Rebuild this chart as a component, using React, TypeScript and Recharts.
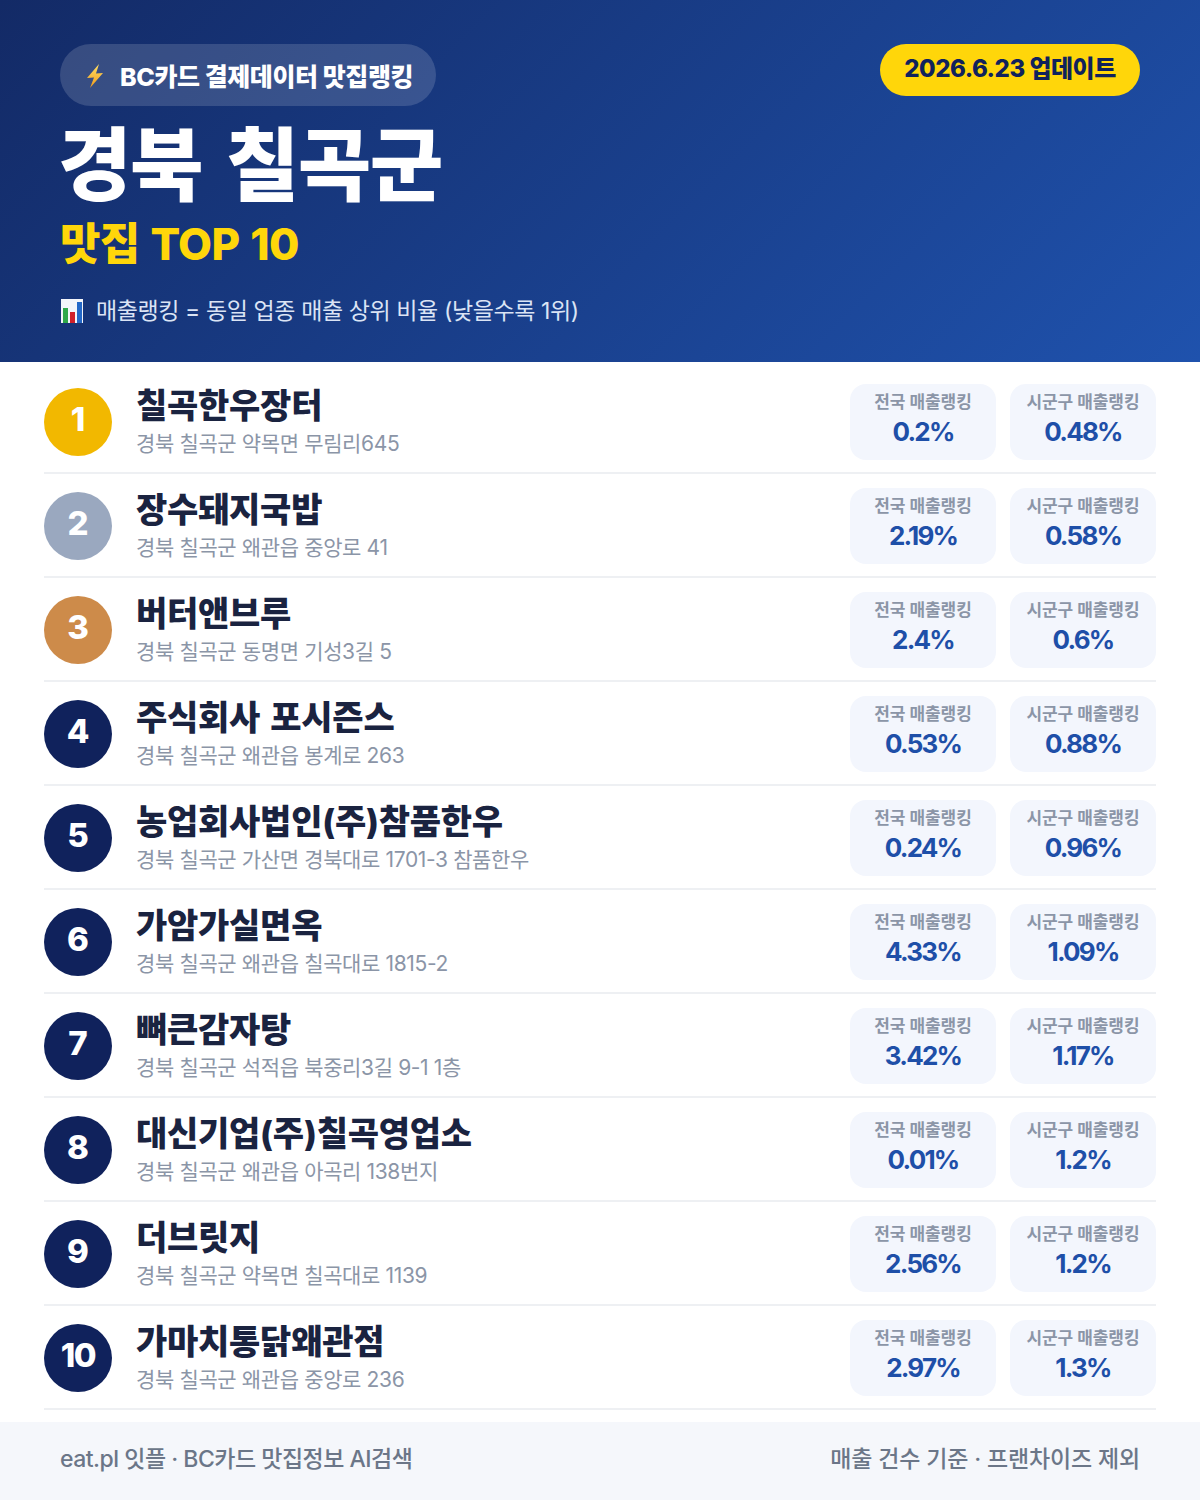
import React from "react";
import { BarChart, Bar, XAxis, YAxis } from "recharts";

const ranks = [1, 2, 3, 4, 5, 6, 7, 8, 9, 10];
const names = ["칠곡한우장터", "장수돼지국밥", "버터앤브루", "주식회사 포시즌스", "농업회사법인(주)참품한우", "가암가실면옥", "뼈큰감자탕", "대신기업(주)칠곡영업소", "더브릿지", "가마치통닭왜관점"];
const addresses = ["경북 칠곡군 약목면 무림리645", "경북 칠곡군 왜관읍 중앙로 41", "경북 칠곡군 동명면 기성3길 5", "경북 칠곡군 왜관읍 봉계로 263", "경북 칠곡군 가산면 경북대로 1701-3 참품한우", "경북 칠곡군 왜관읍 칠곡대로 1815-2", "경북 칠곡군 석적읍 북중리3길 9-1 1층", "경북 칠곡군 왜관읍 아곡리 138번지", "경북 칠곡군 약목면 칠곡대로 1139", "경북 칠곡군 왜관읍 중앙로 236"];
const nationalRank = [0.2, 2.19, 2.4, 0.53, 0.24, 4.33, 3.42, 0.01, 2.56, 2.97];
const districtRank = [0.48, 0.58, 0.6, 0.88, 0.96, 1.09, 1.17, 1.2, 1.2, 1.3];
const medalColors = ["#f2b800", "#9aa8bf", "#cd8b4a"];
const defaultColor = "#10225c";

const rows = ranks.map((rank, i) => ({ rank, name: names[i], address: addresses[i], national: nationalRank[i], district: districtRank[i] }));

const FONT = "Inter, 'Noto Sans CJK KR', sans-serif";

const RowTick = (props: any) => {
  const { y, payload, index } = props;
  const r = rows[index];
  const c = medalColors[index] ?? defaultColor;
  return (
    <g style={{ fontFamily: FONT }}>
      <circle cx={78} cy={y + 1} r={34} fill={c} />
      <text x={78} y={y + 10} textAnchor="middle" fontSize={33} fontWeight={800} fill="#fff" letterSpacing={r.rank === 10 ? -1.5 : 0}>{payload.value}</text>
      <text x={136} y={y - 3} fontSize={34} fontWeight={800} fill="#1a2340" letterSpacing={-0.25} wordSpacing={3}>{r.name}</text>
      <text x={136} y={y + 30} fontSize={21} fontWeight={400} fill="#8b95a7" letterSpacing={-0.37}>{r.address}</text>
      <rect x={44} y={y + 51} width={1112} height={2} fill="#eef0f3" />
    </g>
  );
};

const Card = (x: number, label: string, key: "national" | "district") => (props: any) => {
  const { y, height, payload } = props;
  const cy = y + height / 2;
  return (
    <g style={{ fontFamily: FONT }}>
      <rect x={x} y={cy - 37} width={146} height={76} rx={16} fill="#f3f6fd" />
      <text x={x + 73} y={cy - 13} textAnchor="middle" fontSize={17} fontWeight={700} fill="#8b95a7" letterSpacing={-0.05}>{label}</text>
      <text x={x + 73} y={cy + 20} textAnchor="middle" fontSize={26} fontWeight={700} fill="#1e4fa8" letterSpacing={-1.8}>{payload[key]}%</text>
    </g>
  );
};

const Bolt = () => (
  <svg width="22" height="26" viewBox="0 0 22 26" style={{ position: "absolute", left: 84, top: 63 }}>
    <defs>
      <linearGradient id="boltFill" x1="0" y1="0" x2="0" y2="1">
        <stop offset="0%" stopColor="#ffe066" />
        <stop offset="100%" stopColor="#f09a1a" />
      </linearGradient>
    </defs>
    <path d="M15 1 L3 15 L10 14.5 L6 25 L19 10 L12 10.5 Z" fill="url(#boltFill)" />
  </svg>
);
const BarsIcon = () => (
  <svg width="22" height="24" viewBox="0 0 22 24" style={{ position: "absolute", left: 61, top: 299 }}>
    <rect x="0" y="0" width="22" height="24" fill="#f3f5fa" />
    <rect x="2" y="9" width="5" height="15" fill="#2fa84a" />
    <rect x="9" y="13" width="5" height="11" fill="#d0202a" />
    <rect x="16" y="3" width="5" height="21" fill="#2368c8" />
  </svg>
);

const abs = (s: React.CSSProperties): React.CSSProperties => ({ position: "absolute", whiteSpace: "nowrap", ...s });

export default function App() {
  return (
    <div style={{ position: "absolute", left: 0, top: 0, width: 1200, height: 1500, background: "#fff", overflow: "hidden", fontFamily: FONT }}>
      <div style={abs({ left: 0, top: 0, width: 1200, height: 362, background: "linear-gradient(135deg, #132a66 0%, #1f52ad 100%)" })} />
      <div style={abs({ left: 60, top: 44, width: 376, height: 62, borderRadius: 31, background: "rgba(255,255,255,0.15)" })} />
      <Bolt />
      <div style={abs({ left: 120, top: 46, height: 62, lineHeight: "62px", fontSize: 25, fontWeight: 800, color: "#fff", letterSpacing: -0.4 })}>BC카드 결제데이터 맛집랭킹</div>
      <div style={abs({ left: 880, top: 44, width: 260, height: 52, borderRadius: 26, background: "#ffd60a" })} />
      <div style={abs({ left: 880, top: 44, width: 260, height: 52, lineHeight: "50px", textAlign: "center", fontSize: 24, fontWeight: 800, color: "#10225c", letterSpacing: -0.5 })}>2026.6.23 업데이트</div>
      <div style={abs({ left: 58, top: 110, lineHeight: "110px", fontSize: 80, fontWeight: 900, color: "#fff", letterSpacing: -1.5, wordSpacing: 9 })}>경북 칠곡군</div>
      <div style={abs({ left: 60, top: 214, lineHeight: "60px", fontSize: 44, fontWeight: 800, color: "#ffd60a", letterSpacing: -0.7, wordSpacing: 2 })}>맛집 TOP 10</div>
      <BarsIcon />
      <div style={abs({ left: 96, top: 292, lineHeight: "38px", fontSize: 23, fontWeight: 400, color: "#dbe4f5", letterSpacing: -0.4 })}>매출랭킹 = 동일 업종 매출 상위 비율 (낮을수록 1위)</div>

      <div style={abs({ left: 0, top: 362 })}>
        <BarChart layout="vertical" width={1200} height={1060} data={rows} margin={{ top: 7, right: 0, bottom: 13, left: 0 }} barCategoryGap={0}>
          <XAxis type="number" hide />
          <YAxis type="category" dataKey="rank" width={800} axisLine={false} tickLine={false} interval={0} tick={<RowTick />} />
          <Bar dataKey="national" stackId="r" isAnimationActive={false} shape={Card(850, "전국 매출랭킹", "national")} />
          <Bar dataKey="district" stackId="r" isAnimationActive={false} shape={Card(1010, "시군구 매출랭킹", "district")} />
        </BarChart>
      </div>

      <div style={abs({ left: 0, top: 1422, width: 1200, height: 78, background: "#f5f7fb" })} />
      <div style={abs({ left: 60, top: 1422, lineHeight: "74px", fontSize: 23, fontWeight: 500, color: "#6b7688", letterSpacing: -0.5 })}>eat.pl 잇플 · BC카드 맛집정보 AI검색</div>
      <div style={abs({ right: 60, top: 1422, lineHeight: "74px", fontSize: 23, fontWeight: 500, color: "#6b7688", letterSpacing: -0.15 })}>매출 건수 기준 · 프랜차이즈 제외</div>
    </div>
  );
}
